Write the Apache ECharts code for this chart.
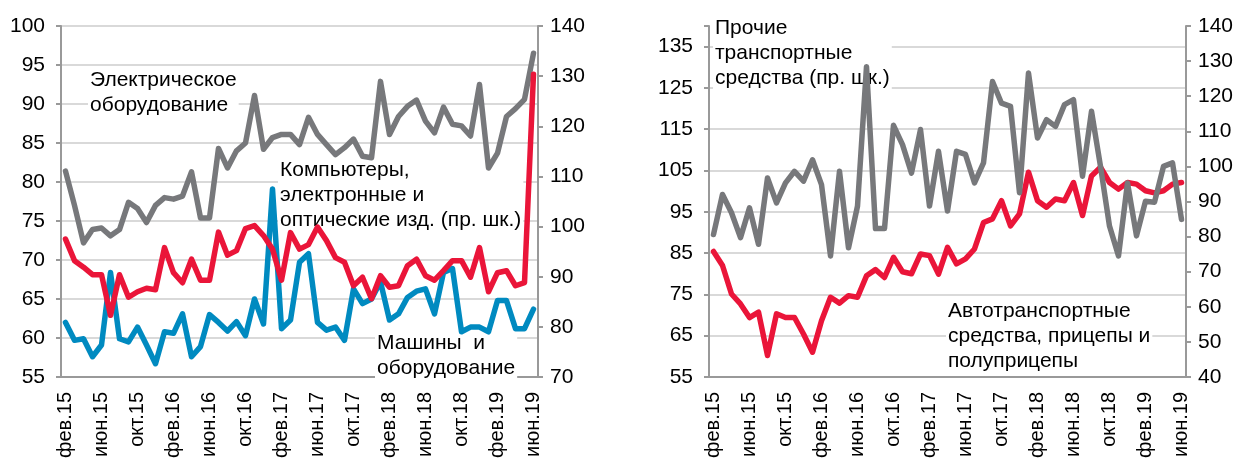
<!DOCTYPE html>
<html lang="ru" style="height: 100%">
  <head>
    <meta charset="utf-8" />
  </head>
  <body style="height: 100%; margin: 0; background: #fff">
    <div id="container" style="width: 1242px; height: 461px"></div>

    <script
      type="text/javascript"
      src="https://fastly.jsdelivr.net/npm/echarts@6/dist/echarts.min.js"
    ></script>

    <script type="text/javascript">
      // месяцы: фев.15 ... июн.19
      var monthNames = ["янв", "фев", "мар", "апр", "май", "июн", "июл", "авг", "сен", "окт", "ноя", "дек"];
      var months = [];
      for (var y = 15; y <= 19; y++) {
        for (var m = 0; m < 12; m++) {
          if (y === 15 && m < 1) continue;
          if (y === 19 && m > 5) break;
          months.push(monthNames[m] + "." + y);
        }
      }

      // левая панель, левая шкала
      var electrical = [
        81.4, 77.0, 72.2, 73.9, 74.1, 73.1, 73.9, 77.4, 76.6, 74.8, 77.0, 78.0, 77.8, 78.2,
        81.3, 75.4, 75.4, 84.3, 81.8, 84.0, 85.0, 91.1, 84.2, 85.7, 86.1, 86.1, 84.8, 88.3,
        86.1, 84.8, 83.5, 84.4, 85.5, 83.3, 83.1, 92.9, 86.1, 88.4, 89.7, 90.5, 87.8, 86.3,
        89.6, 87.4, 87.2, 85.9, 92.5, 81.8, 83.7, 88.4, 89.4, 90.6, 96.5
      ];
      var machines = [
        62.0, 59.7, 59.9, 57.6, 59.1, 68.4, 59.9, 59.5, 61.4, 59.1, 56.7, 60.8, 60.6, 63.1,
        57.6, 58.9, 63.0, 62.0, 60.9, 62.1, 60.3, 65.0, 61.8, 79.1, 61.2, 62.3, 69.7, 70.8,
        62.0, 61.0, 61.4, 59.7, 66.3, 64.4, 65.0, 67.2, 62.3, 63.1, 65.2, 66.0, 66.3, 63.1,
        68.4, 68.9, 60.8, 61.4, 61.4, 60.8, 64.8, 64.8, 61.2, 61.2, 63.7
      ];
      // левая панель, правая шкала
      var computers = [
        97.5, 93.2, 91.9, 90.4, 90.4, 82.3, 90.4, 85.9, 87.0, 87.7, 87.4, 95.8, 90.8, 88.8,
        93.5, 89.3, 89.3, 98.9, 94.3, 95.2, 99.6, 100.2, 98.2, 95.5, 89.3, 98.8, 95.5, 96.4,
        99.9, 97.2, 93.8, 92.9, 88.2, 89.9, 85.6, 90.2, 87.9, 88.2, 92.2, 93.5, 90.2, 89.3,
        91.2, 93.2, 93.2, 89.9, 95.8, 87.0, 90.8, 91.2, 88.2, 88.8, 130.4
      ];

      // правая панель, левая шкала
      var vehicles = [
        85.4, 82.0, 75.1, 72.7, 69.4, 70.7, 60.2, 70.3, 69.4, 69.4, 65.4, 61.0, 68.6, 74.3,
        72.9, 74.7, 74.3, 79.5, 81.0, 79.1, 84.0, 80.5, 80.0, 84.8, 84.4, 79.9, 86.4, 82.4,
        83.6, 86.0, 92.4, 93.3, 97.7, 91.6, 94.5, 104.6, 97.7, 96.1, 98.1, 97.7, 102.1, 94.1,
        103.7, 105.8, 102.1, 100.5, 102.1, 101.7, 100.1, 99.6, 100.1, 101.7, 102.1
      ];
      // правая панель, правая шкала
      var otherTransport = [
        80.6, 92.0, 86.8, 79.7, 88.2, 77.8, 96.7, 89.6, 95.3, 98.6, 95.8, 101.9, 94.8, 74.5,
        98.6, 76.8, 88.7, 128.4, 82.3, 82.3, 111.7, 106.2, 98.1, 110.5, 88.7, 104.3, 87.3, 104.3,
        103.4, 95.3, 101.0, 124.2, 118.0, 117.1, 92.5, 126.6, 108.1, 113.3, 111.4, 117.6, 119.0, 97.2,
        115.7, 100.0, 83.0, 74.5, 95.3, 80.2, 90.1, 89.8, 100.0, 101.0, 84.9
      ];

      var GRAY = "#77787b";
      var RED = "#ea1539";
      var BLUE = "#008ac0";
      var AXIS = "#999999";
      var FONT = "Liberation Sans, Arial, sans-serif";

      var dom = document.getElementById("container");
      var myChart = echarts.init(dom, null, { renderer: "canvas" });

      function xAx(gridIndex) {
        return {
          type: "category",
          gridIndex: gridIndex,
          data: months,
          boundaryGap: true,
          axisLine: { lineStyle: { color: AXIS, width: 2 } },
          axisTick: { interval: 3, length: 5, lineStyle: { color: AXIS, width: 2 } },
          axisLabel: {
            interval: 3,
            rotate: 90,
            margin: 15,
            color: "#000",
            fontSize: 20,
            fontFamily: FONT
          },
          splitLine: { show: false }
        };
      }

      function yAx(gridIndex, pos, min, max, step, grid, hideMax) {
        return {
          type: "value",
          gridIndex: gridIndex,
          position: pos,
          min: min,
          max: max,
          interval: step,
          axisLine: { show: true, lineStyle: { color: AXIS, width: 2 } },
          axisTick: { show: true, length: 5, lineStyle: { color: AXIS, width: 2 } },
          axisLabel: {
            margin: pos === "left" ? 16 : 12,
            color: "#000",
            fontSize: 21,
            fontFamily: FONT,
            formatter: function (v) {
              return hideMax && v === max ? "" : v;
            }
          },
          splitLine: {
            show: grid,
            showMinLine: false,
            showMaxLine: !hideMax,
            lineStyle: { color: "#d9d9d9", width: 2 }
          }
        };
      }

      function line(data, color, xi, yi) {
        return {
          type: "line",
          data: data,
          xAxisIndex: xi,
          yAxisIndex: yi,
          symbol: "none",
          silent: true,
          z: 3,
          lineStyle: { color: color, width: 5.5, join: "round", cap: "round" }
        };
      }

      function label(x, y, text) {
        return {
          type: "text",
          x: x,
          y: y,
          z: 1,
          silent: true,
          style: {
            text: text,
            fill: "#000",
            fontSize: 21,
            fontFamily: FONT,
            lineHeight: 25,
            verticalAlign: "top",
            backgroundColor: "#fff",
            padding: [0, 2]
          }
        };
      }

      var option = {
        animation: false,
        grid: [
          { left: 61, right: 704, top: 26, bottom: 83 },
          { left: 709, right: 56, top: 26, bottom: 83 }
        ],
        xAxis: [xAx(0), xAx(1)],
        yAxis: [
          yAx(0, "left", 55, 100, 5, true, false),
          yAx(0, "right", 70, 140, 10, false, false),
          yAx(1, "left", 55, 140, 10, true, true),
          yAx(1, "right", 40, 140, 10, false, false)
        ],
        series: [
          line(electrical, GRAY, 0, 0),
          line(machines, BLUE, 0, 0),
          line(computers, RED, 0, 1),
          line(vehicles, RED, 1, 2),
          line(otherTransport, GRAY, 1, 3)
        ],
        graphic: [
          label(88, 68, "Электрическое\nоборудование"),
          label(278, 158, "Компьютеры,\nэлектронные и\nоптические изд. (пр. шк.)"),
          label(375, 331, "Машины  и\nоборудование"),
          label(713, 16, "Прочие\nтранспортные\nсредства (пр. шк.)"),
          label(946, 299, "Автотранспортные\nсредства, прицепы и\nполуприцепы")
        ]
      };

      myChart.setOption(option);
      window.addEventListener("resize", myChart.resize);
    </script>
  </body>
</html>
